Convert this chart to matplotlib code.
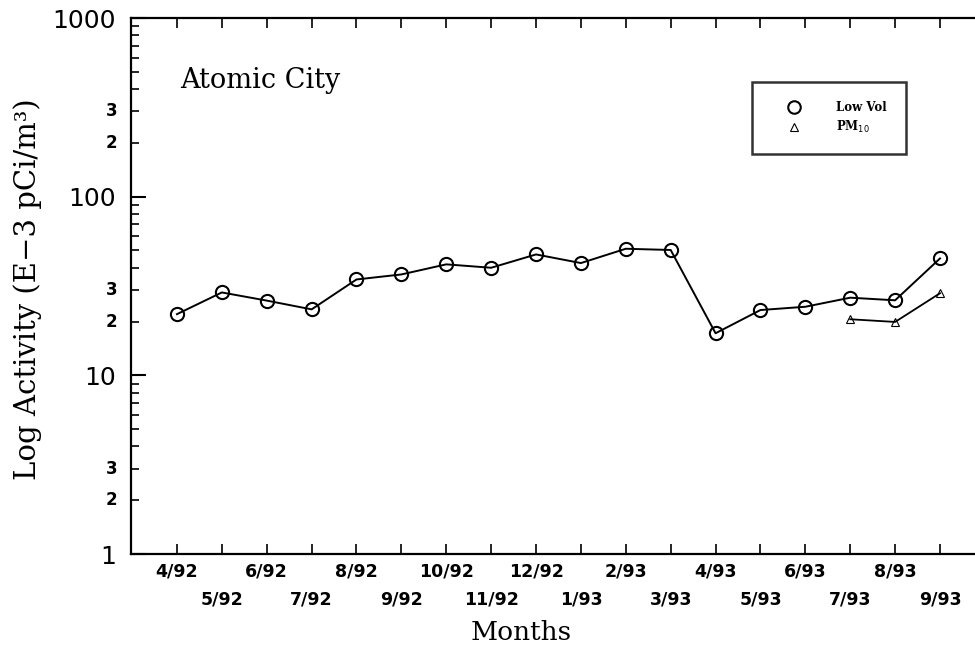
import matplotlib
matplotlib.use("Agg")
import matplotlib.pyplot as plt
from matplotlib.lines import Line2D
from matplotlib.ticker import FixedLocator, NullFormatter
from matplotlib.transforms import offset_copy

months = ["4/92", "5/92", "6/92", "7/92", "8/92", "9/92", "10/92", "11/92", "12/92",
          "1/93", "2/93", "3/93", "4/93", "5/93", "6/93", "7/93", "8/93", "9/93"]
low_vol = [22.0, 29.1, 26.2, 23.4, 34.4, 36.7, 41.8, 40.0, 47.5,
           42.5, 51.1, 50.3, 17.2, 23.2, 24.2, 27.2, 26.3, 45.1]
pm10_months = ["7/93", "8/93", "9/93"]
pm10 = [20.6, 19.9, 28.8]

x = list(range(len(months)))
pm_x = [months.index(m) for m in pm10_months]

fig = plt.figure(figsize=(9.75, 6.48), dpi=100)
ax = fig.add_axes([131/975, 1 - 554/648, (975 - 131)/975, (554 - 18)/648])

ax.plot(x, low_vol, color="black", lw=1.4, marker="o", markersize=9.5,
        markerfacecolor="none", markeredgewidth=1.5, markeredgecolor="black")
ax.plot(pm_x, pm10, color="black", lw=1.3, marker="^", markersize=6,
        markerfacecolor="none", markeredgewidth=0.8, markeredgecolor="black")

ax.set_yscale("log")
ax.set_ylim(1, 1000)
ax.set_xlim(-1.024, 17.78)

# y ticks
ax.yaxis.set_major_locator(FixedLocator([1, 10, 100, 1000]))
ax.set_yticklabels(["1", "10", "100", "1000"], fontsize=18, family="DejaVu Sans")
minor_vals = [m * 10**d for d in range(3) for m in range(2, 10)]
ax.yaxis.set_minor_locator(FixedLocator(minor_vals))
ax.yaxis.set_minor_formatter(NullFormatter())
ax.tick_params(axis="y", which="major", direction="in", length=11, width=1.5, pad=11,
               left=True, right=False)
ax.tick_params(axis="y", which="minor", direction="in", length=6, width=1.2,
               left=True, right=False)
minor_tr = offset_copy(ax.get_yaxis_transform(), fig=fig, x=-10, y=0, units="points")
for d in range(3):
    for m in (2, 3):
        ax.text(0, m * 10**d, str(m), transform=minor_tr,
                ha="right", va="center", fontsize=12, fontweight="bold")

# x ticks: staggered labels
even = [i for i in x if i % 2 == 0]
odd = [i for i in x if i % 2 == 1]
ax.set_xticks(even)
ax.set_xticklabels([months[i] for i in even], fontsize=12.5, fontweight="bold")
ax.set_xticks(odd, minor=True)
ax.set_xticklabels([months[i] for i in odd], minor=True, fontsize=12.5, fontweight="bold")
ax.tick_params(axis="x", which="both", direction="in", length=7, width=1.2,
               top=True, bottom=True)
ax.tick_params(axis="x", which="major", pad=6)
ax.tick_params(axis="x", which="minor", pad=26)

for s in ("left", "bottom", "top"):
    ax.spines[s].set_linewidth(1.6)
ax.spines["right"].set_visible(False)

fig.text(180/975, 1 - 80/648, "Atomic City", fontsize=19.5, family="DejaVu Serif",
         va="center", ha="left")
fig.text(28/975, 1 - 289/648, "Log Activity (E\u22123 pCi/m\u00b3)", rotation=90,
         ha="center", va="center", fontsize=21, family="DejaVu Serif")
fig.text(521/975, 1 - 632/648, "Months", ha="center", va="center",
         fontsize=19, family="DejaVu Serif")

handles = [Line2D([], [], ls="none", marker="o", markersize=9, markerfacecolor="none",
                  markeredgecolor="black", markeredgewidth=1.5),
           Line2D([], [], ls="none", marker="^", markersize=6, markerfacecolor="none",
                  markeredgecolor="black", markeredgewidth=0.8)]
leg = ax.legend(handles, ["Low Vol", "PM$_{10}$"], loc="upper left",
                bbox_to_anchor=(0.736, 0.881), frameon=True, fancybox=False,
                edgecolor="black", borderpad=1.6, handlelength=3.8, handletextpad=1.7,
                labelspacing=0.45,
                prop={"family": "DejaVu Serif", "weight": "bold", "size": 8.5},
                borderaxespad=0)
leg.get_frame().set_linewidth(1.8)

fig.savefig("out.png", dpi=100)
